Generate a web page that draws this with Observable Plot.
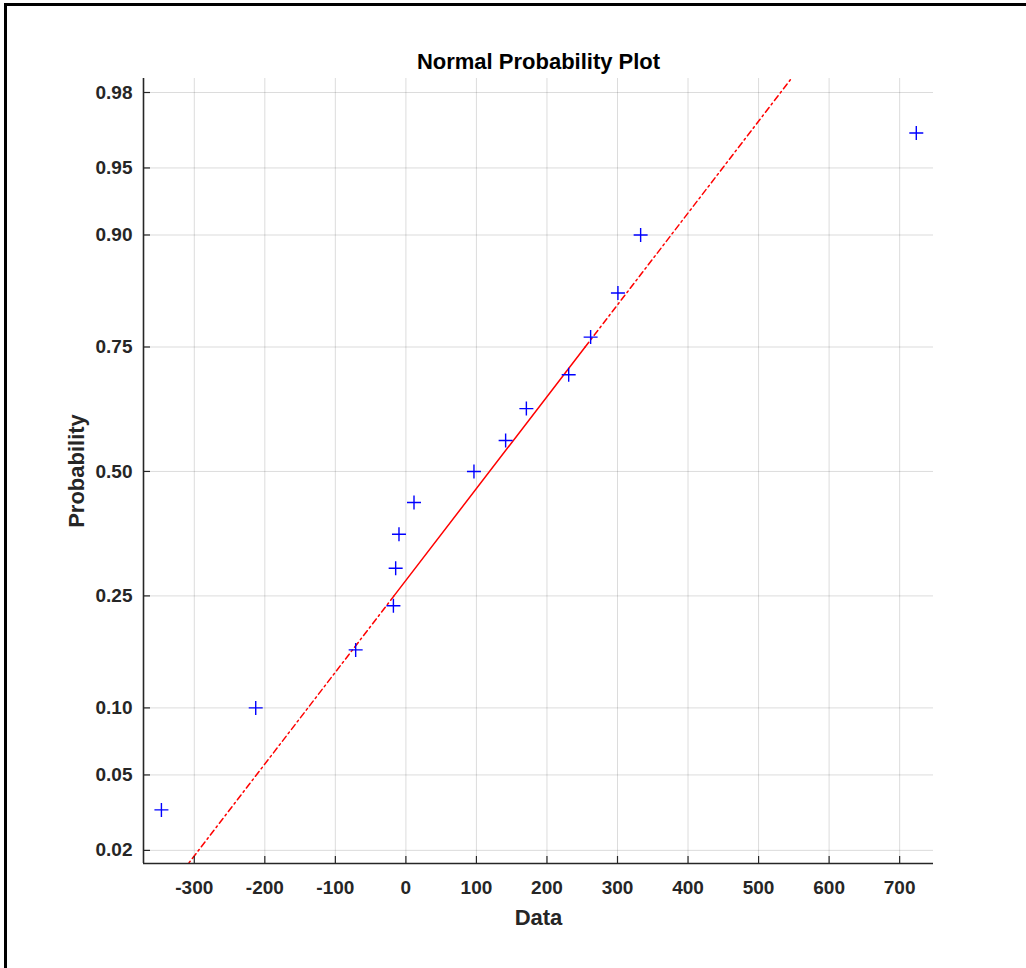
<!DOCTYPE html>
<html>
<head>
<meta charset="utf-8">
<script src="https://cdn.jsdelivr.net/npm/d3@7"></script>
<script src="https://cdn.jsdelivr.net/npm/@observablehq/plot@0.6"></script>
<style>
  html, body { margin: 0; padding: 0; background: #fff; overflow: hidden; }
  #border { position: absolute; left: 4px; top: 3px; width: 1100px; height: 1100px;
            border-left: 3px solid #000; border-top: 3px solid #000; }
  #chart { position: absolute; left: 0; top: 0; }
</style>
</head>
<body>
<div id="border"></div>
<div id="chart"></div>
<script>
// Sample values (sorted) and their plotting probabilities
const sampleValues = [-346.6, -212.9, -71.2, -17.7, -14.5, -9.8, 11.5, 96.5, 141.4, 170.8, 230.8, 261.9, 300.6, 332.8, 723.6];
const plottingProbs = [0.0333, 0.1000, 0.1667, 0.2333, 0.3000, 0.3667, 0.4333, 0.5000, 0.5667, 0.6333, 0.7000, 0.7667, 0.8333, 0.9000, 0.9667];

// Axis ticks and limits
const probTicks = [0.02, 0.05, 0.10, 0.25, 0.50, 0.75, 0.90, 0.95, 0.98];
const probTickLabels = ["0.02", "0.05", "0.10", "0.25", "0.50", "0.75", "0.90", "0.95", "0.98"];
const dataTicks = [-300, -200, -100, 0, 100, 200, 300, 400, 500, 600, 700];
const dataTickLabels = ["-300", "-200", "-100", "0", "100", "200", "300", "400", "500", "600", "700"];
const dataLimits = [-372, 748];
const probLimits = [0.0168, 0.9834];

// Inverse of the standard normal CDF (Acklam's rational approximation)
function norminv(p) {
  const a = [-3.969683028665376e+01, 2.209460984245205e+02, -2.759285104469687e+02, 1.383577518672690e+02, -3.066479806614716e+01, 2.506628277459239e+00];
  const b = [-5.447609879822406e+01, 1.615858368580409e+02, -1.556989798598866e+02, 6.680131188771972e+01, -1.328068155222083e+01];
  const c = [-7.784894002430293e-03, -3.223964580411365e-01, -2.400758277161838e+00, -2.549732539343734e+00, 4.374664141464968e+00, 2.938163982698783e+00];
  const d = [7.784695709041462e-03, 3.224671290700398e-01, 2.445134137142996e+00, 3.754408661907416e+00];
  const pl = 0.02425, ph = 1 - pl;
  let q, r;
  if (p < pl) {
    q = Math.sqrt(-2 * Math.log(p));
    return (((((c[0]*q+c[1])*q+c[2])*q+c[3])*q+c[4])*q+c[5]) / ((((d[0]*q+d[1])*q+d[2])*q+d[3])*q+1);
  }
  if (p <= ph) {
    q = p - 0.5; r = q * q;
    return (((((a[0]*r+a[1])*r+a[2])*r+a[3])*r+a[4])*r+a[5])*q / (((((b[0]*r+b[1])*r+b[2])*r+b[3])*r+b[4])*r+1);
  }
  q = Math.sqrt(-2 * Math.log(1 - p));
  return -(((((c[0]*q+c[1])*q+c[2])*q+c[3])*q+c[4])*q+c[5]) / ((((d[0]*q+d[1])*q+d[2])*q+d[3])*q+1);
}

// Percentile with the (i - 0.5)/n convention and linear interpolation
function percentile(sorted, p) {
  const n = sorted.length;
  const pos = n * p + 0.5;          // 1-based position
  const i = Math.floor(pos), f = pos - i;
  if (i < 1) return sorted[0];
  if (i >= n) return sorted[n - 1];
  return sorted[i - 1] + f * (sorted[i] - sorted[i - 1]);
}

const points = sampleValues.map((v, i) => ({x: v, z: norminv(plottingProbs[i])}));

// Reference line through the first and third quartiles
const sorted = sampleValues.slice().sort((a, b) => a - b);
const q1 = percentile(sorted, 0.25), q3 = percentile(sorted, 0.75);
const z1 = norminv(0.25), z3 = norminv(0.75);
const slope = (q3 - q1) / (z3 - z1);
const lineAt = z => ({x: q1 + slope * (z - z1), z});
const zLo = norminv(probLimits[0]), zHi = norminv(probLimits[1]);
const solidSeg = [lineAt(z1), lineAt(z3)];
const lowerSeg = [lineAt(zLo - 0.1), lineAt(z1)];
const upperSeg = [lineAt(z3), lineAt(zHi + 0.1)];

const W = 1026, H = 968;
const mL = 143, mR = 93, mT = 78, mB = 105;
const frameW = W - mL - mR, frameH = H - mT - mB;
const ink = "#262626";
const font = "'Liberation Sans', Arial, Helvetica, sans-serif";

// "+" marker drawn as two strokes
const plusSymbol = {
  draw(context, size) {
    const r = Math.sqrt(size / Math.PI);
    context.moveTo(-r, 0); context.lineTo(r, 0);
    context.moveTo(0, -r); context.lineTo(0, r);
  }
};

const probTickData = probTicks.map((p, i) => ({z: norminv(p), label: probTickLabels[i]}));
const dataTickData = dataTicks.map((t, i) => ({x: t, label: dataTickLabels[i]}));
const dashDot = "6,3.5,1.8,3.5";

const chart = Plot.plot({
  width: W,
  height: H,
  marginLeft: mL,
  marginRight: mR,
  marginTop: mT,
  marginBottom: mB,
  style: {fontFamily: font, background: "transparent"},
  x: {type: "linear", domain: dataLimits, axis: null},
  y: {type: "linear", domain: [zLo, zHi], axis: null},
  marks: [
    // grid
    Plot.ruleX(dataTickData, {x: "x", stroke: ink, strokeOpacity: 0.16, strokeWidth: 1}),
    Plot.ruleY(probTickData, {y: "z", stroke: ink, strokeOpacity: 0.16, strokeWidth: 1}),
    // quartile reference line
    Plot.line(lowerSeg, {x: "x", y: "z", stroke: "#ff0000", strokeWidth: 1.5, strokeDasharray: dashDot, clip: true}),
    Plot.line(upperSeg, {x: "x", y: "z", stroke: "#ff0000", strokeWidth: 1.5, strokeDasharray: dashDot, clip: true}),
    Plot.line(solidSeg, {x: "x", y: "z", stroke: "#ff0000", strokeWidth: 1.5}),
    // sample points
    Plot.dot(points, {x: "x", y: "z", symbol: plusSymbol, r: 7, stroke: "#0000ff", fill: "none", strokeWidth: 1.4}),
    // axis lines
    Plot.ruleX([dataLimits[0]], {stroke: ink, strokeWidth: 1.6}),
    Plot.ruleY([zLo], {stroke: ink, strokeWidth: 1.6}),
    // inward tick marks
    Plot.tickY(probTickData, {y: "z", stroke: ink, strokeWidth: 1.2, insetRight: frameW - 7}),
    Plot.tickX(dataTickData, {x: "x", stroke: ink, strokeWidth: 1.2, insetTop: frameH - 7}),
    // tick labels
    Plot.text(probTickData, {y: "z", text: "label", frameAnchor: "left", dx: -11, textAnchor: "end",
      fontSize: 19, fontWeight: "bold", fill: ink}),
    Plot.text(dataTickData, {x: "x", text: "label", frameAnchor: "bottom", dy: 17, lineAnchor: "top",
      fontSize: 19, fontWeight: "bold", fill: ink}),
    // title and axis labels
    Plot.text(["Normal Probability Plot"], {frameAnchor: "top", dy: -25, lineAnchor: "top",
      fontSize: 22, fontWeight: "bold", fill: "#000"}),
    Plot.text(["Data"], {frameAnchor: "bottom", dy: 46, lineAnchor: "top",
      fontSize: 22, fontWeight: "bold", fill: ink}),
    Plot.text(["Probability"], {frameAnchor: "left", dx: -75, rotate: -90, lineAnchor: "top",
      textAnchor: "middle", fontSize: 22, fontWeight: "bold", fill: ink})
  ]
});

document.getElementById("chart").appendChild(chart);
</script>
</body>
</html>
